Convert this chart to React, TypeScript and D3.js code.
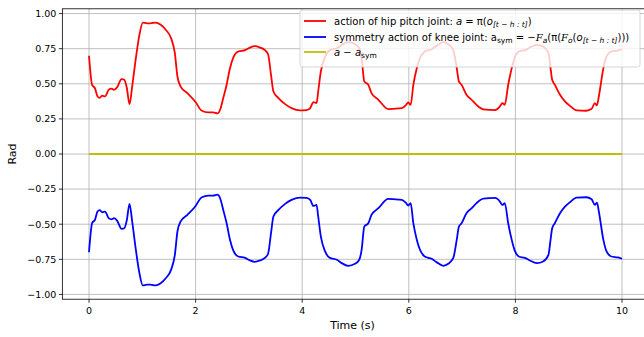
import React from 'react';
import * as d3 from 'd3';

// time samples (s)
const times = [
  0, 0.06, 0.11, 0.16, 0.2, 0.25, 0.3, 0.375, 0.42, 0.47, 0.53, 0.61, 0.66, 0.71, 0.76, 0.81, 0.875, 0.94,
  1.01, 1.09, 1.15, 1.25, 1.345, 1.44, 1.545, 1.61, 1.66, 1.72, 1.845, 2.0, 2.11, 2.24, 2.33, 2.41, 2.46,
  2.52, 2.58, 2.645, 2.71, 2.8, 2.93, 3.02, 3.11, 3.21, 3.3, 3.36, 3.415, 3.46, 3.55, 3.68, 3.8, 3.96, 4.08,
  4.15, 4.21, 4.27, 4.3, 4.35, 4.43, 4.52, 4.65, 4.74, 4.865, 4.99, 5.07, 5.115, 5.165, 5.24, 5.3, 5.43,
  5.615, 5.71, 5.87, 5.95, 5.99, 6.035, 6.085, 6.15, 6.21, 6.3, 6.43, 6.52, 6.65, 6.74, 6.835, 6.9, 6.94,
  6.99, 7.085, 7.18, 7.27, 7.4, 7.62, 7.71, 7.755, 7.8, 7.865, 7.93, 7.99, 8.065, 8.18, 8.27, 8.4, 8.52,
  8.62, 8.66, 8.69, 8.74, 8.84, 8.93, 9.02, 9.15, 9.33, 9.43, 9.49, 9.53, 9.57, 9.65, 9.71, 9.8, 9.925, 10.0,
];

const hipValues = [
  0.70, 0.49, 0.47, 0.41, 0.40, 0.415, 0.41, 0.46, 0.465, 0.457, 0.476, 0.533, 0.53, 0.47, 0.355, 0.48, 0.67, 0.836,
  0.936, 0.93, 0.93, 0.936, 0.92, 0.885, 0.82, 0.72, 0.55, 0.48, 0.434, 0.37, 0.31, 0.296, 0.296, 0.289, 0.315,
  0.40, 0.49, 0.61, 0.69, 0.73, 0.74, 0.758, 0.768, 0.758, 0.74, 0.71, 0.564, 0.445, 0.40, 0.355, 0.327, 0.31, 0.313,
  0.327, 0.37, 0.363, 0.445, 0.588, 0.694, 0.74, 0.753, 0.777, 0.796, 0.782, 0.753, 0.682, 0.517, 0.493, 0.434, 0.386,
  0.32, 0.322, 0.327, 0.35, 0.367, 0.35, 0.493, 0.61, 0.682, 0.73, 0.746, 0.77, 0.796, 0.782, 0.74, 0.61, 0.517,
  0.493, 0.42, 0.386, 0.35, 0.318, 0.313, 0.339, 0.363, 0.35, 0.493, 0.61, 0.69, 0.73, 0.74, 0.758, 0.777, 0.765,
  0.718, 0.61, 0.528, 0.493, 0.42, 0.375, 0.344, 0.31, 0.308, 0.322, 0.363, 0.346, 0.42, 0.61, 0.694, 0.73, 0.737, 0.746,
];

const kneeValues = [
  -0.70, -0.49, -0.47, -0.41, -0.40, -0.415, -0.41, -0.46, -0.465, -0.457, -0.476, -0.533, -0.53, -0.47, -0.355, -0.48, -0.67, -0.836,
  -0.936, -0.93, -0.93, -0.936, -0.92, -0.885, -0.82, -0.72, -0.55, -0.48, -0.434, -0.37, -0.31, -0.296, -0.296, -0.289, -0.315,
  -0.40, -0.49, -0.61, -0.69, -0.73, -0.74, -0.758, -0.768, -0.758, -0.74, -0.71, -0.564, -0.445, -0.40, -0.355, -0.327, -0.31, -0.313,
  -0.327, -0.37, -0.363, -0.445, -0.588, -0.694, -0.74, -0.753, -0.777, -0.796, -0.782, -0.753, -0.682, -0.517, -0.493, -0.434, -0.386,
  -0.32, -0.322, -0.327, -0.35, -0.367, -0.35, -0.493, -0.61, -0.682, -0.73, -0.746, -0.77, -0.796, -0.782, -0.74, -0.61, -0.517,
  -0.493, -0.42, -0.386, -0.35, -0.318, -0.313, -0.339, -0.363, -0.35, -0.493, -0.61, -0.69, -0.73, -0.74, -0.758, -0.777, -0.765,
  -0.718, -0.61, -0.528, -0.493, -0.42, -0.375, -0.344, -0.31, -0.308, -0.322, -0.363, -0.346, -0.42, -0.61, -0.694, -0.73, -0.737, -0.746,
];

const diffTimes = [0, 10];
const diffValues = [0, 0];

const xTicks = [0, 2, 4, 6, 8, 10];
const yTicks = [-1, -0.75, -0.5, -0.25, 0, 0.25, 0.5, 0.75, 1];

const W = 644;
const H = 337;
const FONT = 'DejaVu Sans, sans-serif';

const App = () => {
  const x = d3.scaleLinear().domain([-0.5, 10.5]).range([62.35, 648.65]);
  const y = d3.scaleLinear().domain([-1.034, 1.034]).range([299.2, 8.8]);

  const line = d3.line<[number, number]>()
    .x(d => x(d[0]))
    .y(d => y(d[1]))
    .curve(d3.curveMonotoneX);

  const hipPath = line(times.map((t, i) => [t, hipValues[i]]));
  const kneePath = line(times.map((t, i) => [t, kneeValues[i]]));
  const diffPath = line(diffTimes.map((t, i) => [t, diffValues[i]]));

  const [x0, x1] = x.range();
  const [y0, y1] = y.range();

  // legend
  const lx = 300, ly = 10, lw = 340, lh = 57;
  const rows = [21, 37, 52];
  const sub = { fontSize: 7.5 };
  const lfs = 10;

  return (
    <svg width={W} height={H} style={{ position: 'absolute', left: 0, top: 0, background: '#fff' }}
      fontFamily={FONT}>
      <rect x={0} y={0} width={W} height={H} fill="#fff" />

      {/* grid */}
      <g stroke="#b0b0b0" strokeWidth={0.8}>
        {xTicks.map(t => <line key={'gx' + t} x1={x(t)} x2={x(t)} y1={y1} y2={y0} />)}
        {yTicks.map(t => <line key={'gy' + t} x1={x0} x2={x1} y1={y(t)} y2={y(t)} />)}
      </g>

      {/* series */}
      <path d={hipPath!} fill="none" stroke="#ff0000" strokeWidth={1.8} strokeLinejoin="round" />
      <path d={kneePath!} fill="none" stroke="#0000ff" strokeWidth={1.8} strokeLinejoin="round" />
      <path d={diffPath!} fill="none" stroke="#bfbf00" strokeWidth={1.8} />

      {/* spines */}
      <rect x={x0} y={y1} width={x1 - x0} height={y0 - y1} fill="none" stroke="#000" strokeWidth={0.8} />

      {/* x ticks */}
      {xTicks.map(t => (
        <g key={'xt' + t} transform={`translate(${x(t)},${y0})`}>
          <line y2={3.5} stroke="#000" strokeWidth={0.8} />
          <text y={15} textAnchor="middle" fontSize={9.5} fill="#000">{t}</text>
        </g>
      ))}

      {/* y ticks */}
      {yTicks.map(t => (
        <g key={'yt' + t} transform={`translate(${x0},${y(t)})`}>
          <line x2={-3.5} stroke="#000" strokeWidth={0.8} />
          <text x={-6} dy="0.35em" textAnchor="end" fontSize={9.5} fill="#000">
            {d3.format('.2f')(t).replace('-', '\u2212')}
          </text>
        </g>
      ))}

      {/* axis labels */}
      <text x={(x(-0.5) + x(10.5)) / 2 - 3} y={329} textAnchor="middle" fontSize={11} fill="#000">Time (s)</text>
      <text transform={`translate(16,${y(0)}) rotate(-90)`} textAnchor="middle" fontSize={11} fill="#000">Rad</text>

      {/* legend */}
      <rect x={lx} y={ly} width={lw} height={lh} rx={2.5} fill="#fff" fillOpacity={0.8} stroke="#cccccc" strokeWidth={0.8} />
      <line x1={304} x2={326} y1={rows[0]} y2={rows[0]} stroke="#ff0000" strokeWidth={1.8} />
      <line x1={304} x2={326} y1={rows[1]} y2={rows[1]} stroke="#0000ff" strokeWidth={1.8} />
      <line x1={304} x2={326} y1={rows[2]} y2={rows[2]} stroke="#bfbf00" strokeWidth={1.8} />

      <text x={334} y={rows[0] + 3.5} fontSize={lfs} fill="#000">
        action of hip pitch joint: <tspan fontStyle="italic">a</tspan> = π(<tspan fontStyle="italic">o</tspan>
        <tspan dy={2.5} style={sub} fontStyle="italic">[t − h : t]</tspan><tspan dy={-2.5}>)</tspan>
      </text>
      <text x={334} y={rows[1] + 3.5} fontSize={lfs} fill="#000">
        symmetry action of knee joint: a<tspan dy={2.5} style={sub}>sym</tspan><tspan dy={-2.5}> = −</tspan>
        <tspan fontFamily="DejaVu Serif, serif" fontStyle="italic">F</tspan>
        <tspan dy={2.5} style={sub} fontStyle="italic">a</tspan><tspan dy={-2.5}>(π(</tspan>
        <tspan fontFamily="DejaVu Serif, serif" fontStyle="italic">F</tspan>
        <tspan dy={2.5} style={sub} fontStyle="italic">o</tspan><tspan dy={-2.5}>(</tspan>
        <tspan fontStyle="italic">o</tspan>
        <tspan dy={2.5} style={sub} fontStyle="italic">[t − h : t]</tspan><tspan dy={-2.5}>)))</tspan>
      </text>
      <text x={334} y={rows[2] + 3.5} fontSize={lfs} fill="#000">
        <tspan fontStyle="italic">a</tspan> − <tspan fontStyle="italic">a</tspan>
        <tspan dy={2.5} style={sub}>sym</tspan>
      </text>
    </svg>
  );
};

export default App;
